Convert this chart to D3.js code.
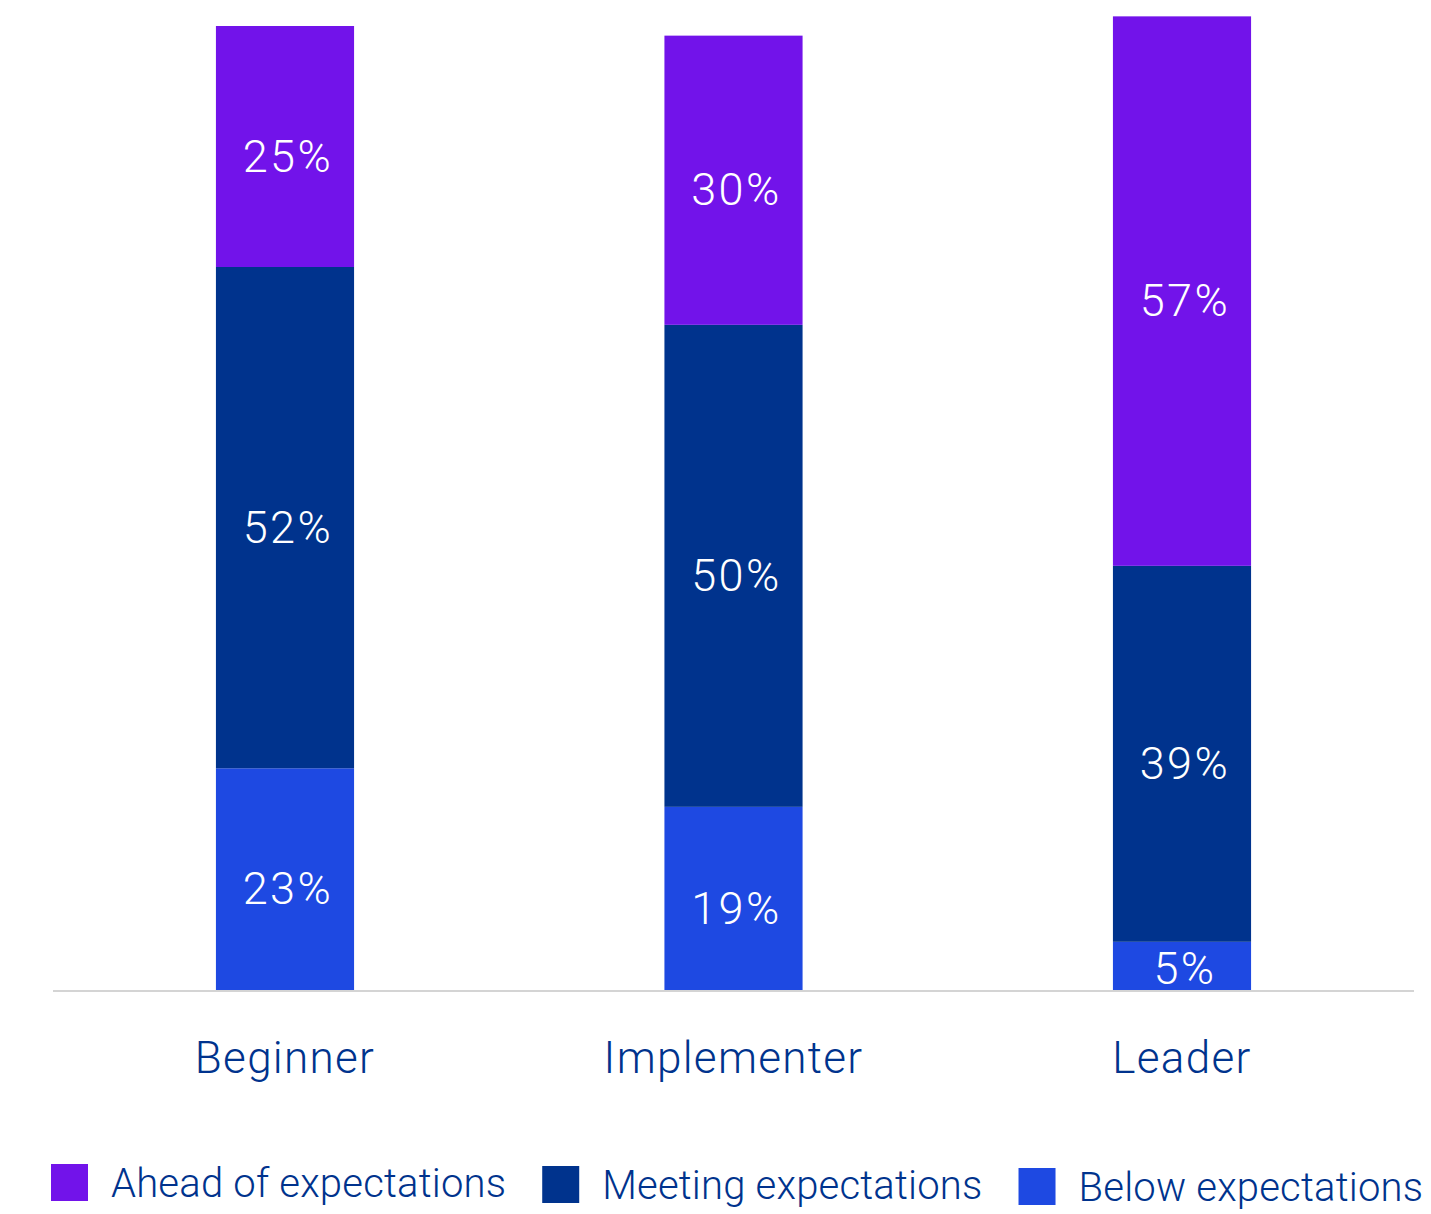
<!DOCTYPE html>
<html>
<head>
<meta charset="utf-8">
<script src="https://cdn.jsdelivr.net/npm/d3@7"></script>
<style>
  html, body { margin: 0; padding: 0; background: #ffffff; }
  svg { display: block; }
  text { font-family: Roboto, "Liberation Sans", Arial, sans-serif; font-weight: 300; }
</style>
</head>
<body>
<svg id="chart" width="1431" height="1214"></svg>
<script>
const categories = ["Beginner", "Implementer", "Leader"];
const seriesNames = ["Below expectations", "Meeting expectations", "Ahead of expectations"];
const belowValues = [23, 19, 5];
const meetingValues = [52, 50, 39];
const aheadValues = [25, 30, 57];
const legendOrder = ["Ahead of expectations", "Meeting expectations", "Below expectations"];
const colors = ["#1E49E2", "#00338D", "#7213EA"];

const svg = d3.select("#chart");

const rows = categories.map((c, i) => ({
  category: c,
  "Below expectations": belowValues[i],
  "Meeting expectations": meetingValues[i],
  "Ahead of expectations": aheadValues[i]
}));

const series = d3.stack().keys(seriesNames)(rows);

const x = d3.scaleBand()
  .domain(categories)
  .range([60.75, 1406.25])
  .paddingInner(0.692)
  .paddingOuter(0.346);

const y = d3.scaleLinear().domain([0, 100]).range([990, 26]);
const color = d3.scaleOrdinal().domain(seriesNames).range(colors);

const layers = svg.append("g").selectAll("g.layer")
  .data(series)
  .join("g")
  .attr("class", "layer")
  .attr("fill", d => color(d.key));

layers.selectAll("rect")
  .data(d => d)
  .join("rect")
  .attr("x", d => x(d.data.category))
  .attr("width", x.bandwidth())
  .attr("y", d => y(d[1]))
  .attr("height", d => y(d[0]) - y(d[1]));

layers.selectAll("text")
  .data(d => d)
  .join("text")
  .attr("x", d => x(d.data.category) + x.bandwidth() / 2 + 3)
  .attr("y", d => {
    const h = y(d[0]) - y(d[1]);
    return (y(d[0]) + y(d[1])) / 2 + Math.max(0, Math.min(9, (h - 44) / 2));
  })
  .attr("dy", "0.36em")
  .attr("text-anchor", "middle")
  .attr("fill", "#ffffff")
  .attr("font-size", 45)
  .attr("letter-spacing", 2.5)
  .text(d => (d[1] - d[0]) + "%");

// baseline
svg.append("line")
  .attr("x1", 53).attr("x2", 1414)
  .attr("y1", y(0) + 1).attr("y2", y(0) + 1)
  .attr("stroke", "#d4d4d4")
  .attr("stroke-width", 2);

// category axis
const ax = svg.append("g")
  .attr("transform", `translate(0, ${y(0)})`)
  .call(d3.axisBottom(x).tickSize(0).tickPadding(0));
ax.select(".domain").remove();
ax.selectAll(".tick text")
  .attr("y", 83)
  .attr("dy", 0)
  .attr("font-size", 44)
  .attr("font-family", "Roboto, Liberation Sans, Arial, sans-serif")
  .attr("font-weight", 300)
  .attr("letter-spacing", 1.3)
  .attr("fill", "#00338D");

// legend
const legend = svg.append("g").attr("class", "legend");
let lx = 51;
legendOrder.forEach((name, i) => {
  const item = legend.append("g").attr("transform", `translate(${lx}, ${1164 + i * 2})`);
  item.append("rect")
    .attr("width", 37).attr("height", 37)
    .attr("fill", color(name));
  const t = item.append("text")
    .attr("x", 60)
    .attr("y", 33)
    .attr("font-size", 40)
    .attr("letter-spacing", 0.2)
    .attr("fill", "#00338D")
    .text(name);
  const tw = t.node().getComputedTextLength();
  lx += 60 + tw + 36;
});
</script>
</body>
</html>
